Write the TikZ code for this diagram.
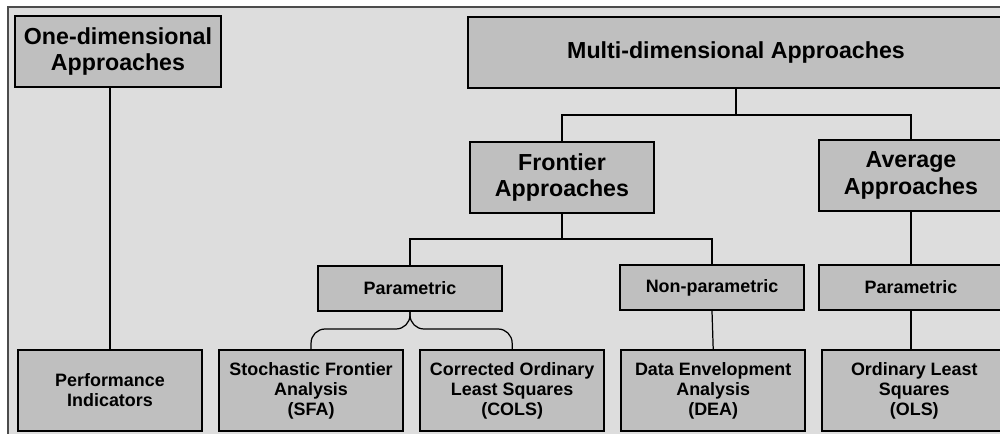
\documentclass[tikz,border=0pt]{standalone}
\usepackage{fontspec}
\setmainfont{Liberation Sans}
\usetikzlibrary{positioning}
\usepackage{xcolor}
\definecolor{boxgray}{gray}{0.75}
\definecolor{backgray}{gray}{0.865}

\begin{document}
\begin{tikzpicture}[x=0.02cm, y=-0.02cm, node distance=0.3cm]
\tikzset{
    bigbox/.style={rectangle, draw=black, fill=boxgray, line width=1.2pt, minimum width=3.68cm, minimum height=1.42cm, align=center, font=\fontsize{13.2}{15.2}\selectfont\bfseries},
    smallbox/.style={rectangle, draw=black, fill=boxgray, line width=1.2pt, minimum width=3.68cm, minimum height=0.9cm, align=center, font=\fontsize{10.2}{11.4}\selectfont\bfseries},
    leafbox/.style={smallbox, minimum height=1.62cm},
    myline/.style={draw=black, line width=0.7pt}
}
\useasboundingbox (0,0) rectangle (1000,433);
\draw[draw=black!70, fill=backgray, line width=0.6pt] (8,7) rectangle (1010,445);

\node[bigbox, minimum width=4.12cm] (one) at (118,51.5) {One-dimensional\\Approaches};
\node[bigbox, minimum width=10.72cm] (multi) at (736,52.5) {Multi-dimensional Approaches};
\node[bigbox] (frontier) at (562,177.5) {Frontier\\Approaches};
\node[bigbox] (average) at (911,175.5) {Average\\Approaches};
\node[smallbox] (param) at (410,288.5) {Parametric};
\node[smallbox] (nonparam) at (712,287.5) {Non-parametric};
\node[smallbox] (paramavg) at (911,287.5) {Parametric};
% bottom row, side by side
\node[leafbox] (perf) at (110,390.5) {Performance\\Indicators};
\node[leafbox, right=of perf] (sfa) {Stochastic Frontier\\Analysis\\(SFA)};
\node[leafbox, right=of sfa] (cols) {Corrected Ordinary\\Least Squares\\(COLS)};
\node[leafbox, right=of cols] (dea) {Data Envelopment\\Analysis\\(DEA)};
\node[leafbox, right=of dea] (ols) {Ordinary Least\\Squares\\(OLS)};

\coordinate (split1) at (736,115);
\coordinate (split2) at (562,239);
\coordinate (brace) at (410,329);

\draw[myline] (multi.south) -- (split1);
\draw[myline] (frontier.north) |- (split1) -| (average.north);
\draw[myline] (frontier.south) -- (split2);
\draw[myline] (param.north) |- (split2) -| (nonparam.north);
\draw[myline] (average.south) -- (paramavg.north);
\draw[myline] (nonparam.south) -- (dea.north);
\draw[myline] (paramavg.south) -- (paramavg.south |- ols.north);
\draw[myline] (perf.north) -- (perf.north |- one.south);
% curly split under Parametric
\draw[myline, rounded corners=0.28cm] (param.south) |- (sfa.north |- brace) -- (sfa.north);
\draw[myline, rounded corners=0.28cm] (param.south) |- (cols.north |- brace) -- (cols.north);

\end{tikzpicture}
\end{document}
